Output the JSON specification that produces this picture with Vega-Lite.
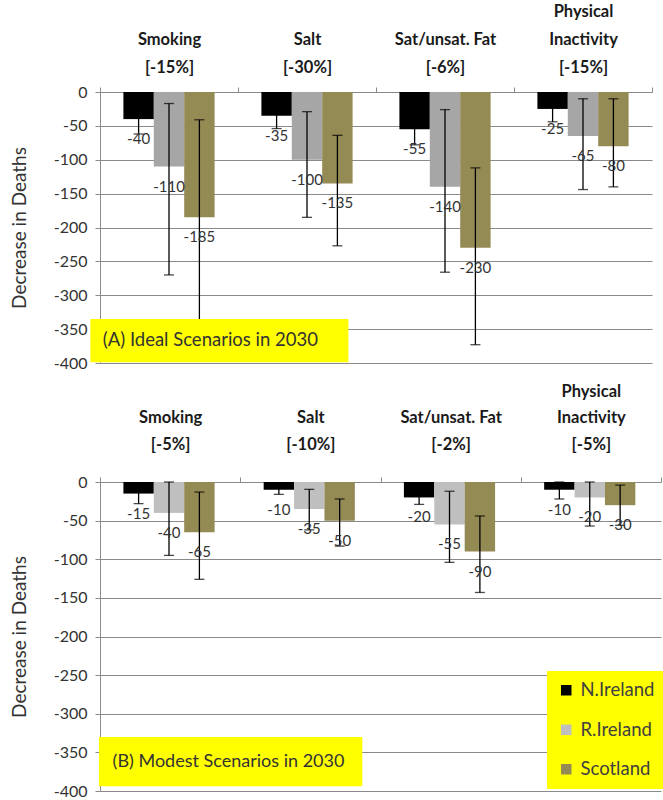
{
  "$schema": "https://vega.github.io/schema/vega-lite/v6.json",
  "background": "white",
  "padding": {"left": 10, "top": 3, "right": 0, "bottom": 0},
  "config": {
    "view": {"stroke": null},
    "font": "Lato",
    "axisY": {
      "values": [-400, -350, -300, -250, -200, -150, -100, -50, 0],
      "labelExpr": "'' + datum.value",
      "grid": true, "gridColor": "#8a8a8a", "gridWidth": 1,
      "domainColor": "#8a8a8a", "tickColor": "#8a8a8a", "tickSize": 5,
      "labelFontSize": 16, "labelColor": "#333333", "labelPadding": 8,
      "titleFontSize": 19, "titleFontWeight": "normal", "titleColor": "#333333", "titlePadding": 24
    },
    "axisX": {
      "orient": "top", "labelAngle": 0, "labelFontSize": 16.5, "labelFontWeight": "bold",
      "labelColor": "#1a1a1a", "labelBaseline": "top", "tickBand": "extent", "tickSize": 5,
      "tickColor": "#8a8a8a", "domainColor": "#8a8a8a", "grid": false, "title": null,
      "labelExpr": "isValid(datum.value) ? split(datum.value, '|') : ''"
    }
  },
  "datasets": {
    "bars": [
      {"panel": "A", "cat": "|Smoking|[-15%]", "country": "N.Ireland", "value": -40, "lo": -62, "hi": -18},
      {"panel": "A", "cat": "|Smoking|[-15%]", "country": "R.Ireland", "value": -110, "lo": -270, "hi": -17},
      {"panel": "A", "cat": "|Smoking|[-15%]", "country": "Scotland", "value": -185, "lo": -360, "hi": -41},
      {"panel": "A", "cat": "|Salt|[-30%]", "country": "N.Ireland", "value": -35, "lo": -54, "hi": -16},
      {"panel": "A", "cat": "|Salt|[-30%]", "country": "R.Ireland", "value": -100, "lo": -185, "hi": -29},
      {"panel": "A", "cat": "|Salt|[-30%]", "country": "Scotland", "value": -135, "lo": -227, "hi": -64},
      {"panel": "A", "cat": "|Sat/unsat. Fat|[-6%]", "country": "N.Ireland", "value": -55, "lo": -78, "hi": -32},
      {"panel": "A", "cat": "|Sat/unsat. Fat|[-6%]", "country": "R.Ireland", "value": -140, "lo": -266, "hi": -26},
      {"panel": "A", "cat": "|Sat/unsat. Fat|[-6%]", "country": "Scotland", "value": -230, "lo": -373, "hi": -112},
      {"panel": "A", "cat": "Physical|Inactivity|[-15%]", "country": "N.Ireland", "value": -25, "lo": -44, "hi": -6},
      {"panel": "A", "cat": "Physical|Inactivity|[-15%]", "country": "R.Ireland", "value": -65, "lo": -144, "hi": -10},
      {"panel": "A", "cat": "Physical|Inactivity|[-15%]", "country": "Scotland", "value": -80, "lo": -140, "hi": -10},
      {"panel": "B", "cat": "|Smoking|[-5%]", "country": "N.Ireland", "value": -15, "lo": -28, "hi": -2},
      {"panel": "B", "cat": "|Smoking|[-5%]", "country": "R.Ireland", "value": -40, "lo": -95, "hi": 0},
      {"panel": "B", "cat": "|Smoking|[-5%]", "country": "Scotland", "value": -65, "lo": -126, "hi": -13},
      {"panel": "B", "cat": "|Salt|[-10%]", "country": "N.Ireland", "value": -10, "lo": -16, "hi": -4},
      {"panel": "B", "cat": "|Salt|[-10%]", "country": "R.Ireland", "value": -35, "lo": -62, "hi": -9.5},
      {"panel": "B", "cat": "|Salt|[-10%]", "country": "Scotland", "value": -50, "lo": -83, "hi": -22},
      {"panel": "B", "cat": "|Sat/unsat. Fat|[-2%]", "country": "N.Ireland", "value": -20, "lo": -29, "hi": -11},
      {"panel": "B", "cat": "|Sat/unsat. Fat|[-2%]", "country": "R.Ireland", "value": -55, "lo": -104, "hi": -12},
      {"panel": "B", "cat": "|Sat/unsat. Fat|[-2%]", "country": "Scotland", "value": -90, "lo": -143, "hi": -44},
      {"panel": "B", "cat": "Physical|Inactivity|[-5%]", "country": "N.Ireland", "value": -10, "lo": -22, "hi": 0},
      {"panel": "B", "cat": "Physical|Inactivity|[-5%]", "country": "R.Ireland", "value": -20, "lo": -57, "hi": 0},
      {"panel": "B", "cat": "Physical|Inactivity|[-5%]", "country": "Scotland", "value": -30, "lo": -56, "hi": -4}
    ]
  },
  "spacing": 12,
  "resolve": {"scale": {"color": "independent", "x": "independent", "y": "independent"}},
  "vconcat": [
    {
      "width": 552,
      "height": 271,
      "layer": [
        {
          "data": {"name": "bars"},
          "transform": [{"filter": "datum.panel == 'A'"}],
          "encoding": {
            "x": {"field": "cat", "type": "nominal", "sort": null,
                  "scale": {"paddingInner": 0, "paddingOuter": 0},
                  "axis": {"labelPadding": 84, "labelLineHeight": 28}},
            "xOffset": {"field": "country", "type": "nominal", "sort": ["N.Ireland", "R.Ireland", "Scotland"],
                        "scale": {"paddingInner": 0, "paddingOuter": 0.77}}
          },
          "layer": [
            {
              "mark": {"type": "bar"},
              "encoding": {
                "y": {"field": "value", "type": "quantitative",
                      "scale": {"domain": [-400, 0], "nice": false}, "title": "Decrease in Deaths"},
                "color": {"field": "country", "type": "nominal",
                          "scale": {"domain": ["N.Ireland", "R.Ireland", "Scotland"], "range": ["#000000", "#a6a6a6", "#948a54"]},
                          "legend": null}
              }
            },
            {
              "mark": {"type": "rule", "color": "#000000", "strokeWidth": 1.3},
              "encoding": {"y": {"field": "lo", "type": "quantitative"}, "y2": {"field": "hi"}}
            },
            {
              "mark": {"type": "tick", "orient": "horizontal", "color": "#000000", "size": 10, "thickness": 1.3},
              "encoding": {"y": {"field": "lo", "type": "quantitative"}}
            },
            {
              "mark": {"type": "tick", "orient": "horizontal", "color": "#000000", "size": 10, "thickness": 1.3},
              "encoding": {"y": {"field": "hi", "type": "quantitative"}}
            },
            {
              "mark": {"type": "text", "fontSize": 15, "color": "#333333", "baseline": "middle", "dy": 20},
              "encoding": {"y": {"field": "value", "type": "quantitative"}, "text": {"field": "value", "type": "nominal"}}
            }
          ]
        },
        {
          "data": {"values": [{}]},
          "encoding": {
            "x": {"datum": -0.07, "type": "quantitative", "scale": {"domain": [0, 4], "nice": false, "zero": false}, "axis": null}
          },
          "layer": [
            {
              "mark": {"type": "rect", "color": "#ffff00"},
              "encoding": {"x2": {"datum": 1.8}, "y": {"datum": -335, "type": "quantitative"}, "y2": {"datum": -399}}
            },
            {
              "mark": {"type": "text", "align": "left", "baseline": "middle", "fontSize": 18.5, "color": "#333333"},
              "encoding": {"x": {"datum": 0.02, "type": "quantitative"}, "y": {"datum": -366, "type": "quantitative"},
                           "text": {"value": "(A) Ideal Scenarios in 2030"}}
            }
          ]
        }
      ],
      "resolve": {"scale": {"x": "independent"}}
    },
    {
      "width": 561,
      "height": 309,
      "layer": [
        {
          "data": {"name": "bars"},
          "transform": [{"filter": "datum.panel == 'B'"}],
          "encoding": {
            "x": {"field": "cat", "type": "nominal", "sort": null,
                  "scale": {"paddingInner": 0, "paddingOuter": 0},
                  "axis": {"labelPadding": 94, "labelLineHeight": 26.5}},
            "xOffset": {"field": "country", "type": "nominal", "sort": ["N.Ireland", "R.Ireland", "Scotland"],
                        "scale": {"paddingInner": 0, "paddingOuter": 0.77}}
          },
          "layer": [
            {
              "mark": {"type": "bar"},
              "encoding": {
                "y": {"field": "value", "type": "quantitative",
                      "scale": {"domain": [-400, 0], "nice": false}, "title": "Decrease in Deaths"},
                "color": {"field": "country", "type": "nominal",
                          "scale": {"domain": ["N.Ireland", "R.Ireland", "Scotland"], "range": ["#000000", "#bfbfbf", "#948a54"]},
                          "legend": {"orient": "none", "legendX": 447, "legendY": 189, "title": null,
                                     "fillColor": "#ffff00", "padding": 10, "symbolType": "square",
                                     "symbolSize": 110, "symbolStrokeWidth": 0, "labelFontSize": 18.5,
                                     "labelColor": "#404040", "rowPadding": 20.5, "labelOffset": 5}}
              }
            },
            {
              "mark": {"type": "rule", "color": "#000000", "strokeWidth": 1.3},
              "encoding": {"y": {"field": "lo", "type": "quantitative"}, "y2": {"field": "hi"}}
            },
            {
              "mark": {"type": "tick", "orient": "horizontal", "color": "#000000", "size": 10, "thickness": 1.3},
              "encoding": {"y": {"field": "lo", "type": "quantitative"}}
            },
            {
              "mark": {"type": "tick", "orient": "horizontal", "color": "#000000", "size": 10, "thickness": 1.3},
              "encoding": {"y": {"field": "hi", "type": "quantitative"}}
            },
            {
              "mark": {"type": "text", "fontSize": 15, "color": "#333333", "baseline": "middle", "dy": 20},
              "encoding": {"y": {"field": "value", "type": "quantitative"}, "text": {"field": "value", "type": "nominal"}}
            }
          ]
        },
        {
          "data": {"values": [{}]},
          "encoding": {
            "x": {"datum": -0.007, "type": "quantitative", "scale": {"domain": [0, 4], "nice": false, "zero": false}, "axis": null}
          },
          "layer": [
            {
              "mark": {"type": "rect", "color": "#ffff00"},
              "encoding": {"x2": {"datum": 1.87}, "y": {"datum": -330, "type": "quantitative"}, "y2": {"datum": -394}}
            },
            {
              "mark": {"type": "text", "align": "left", "baseline": "middle", "fontSize": 18, "color": "#333333"},
              "encoding": {"x": {"datum": 0.09, "type": "quantitative"}, "y": {"datum": -362, "type": "quantitative"},
                           "text": {"value": "(B) Modest Scenarios in 2030"}}
            }
          ]
        }
      ],
      "resolve": {"scale": {"x": "independent"}}
    }
  ]
}
